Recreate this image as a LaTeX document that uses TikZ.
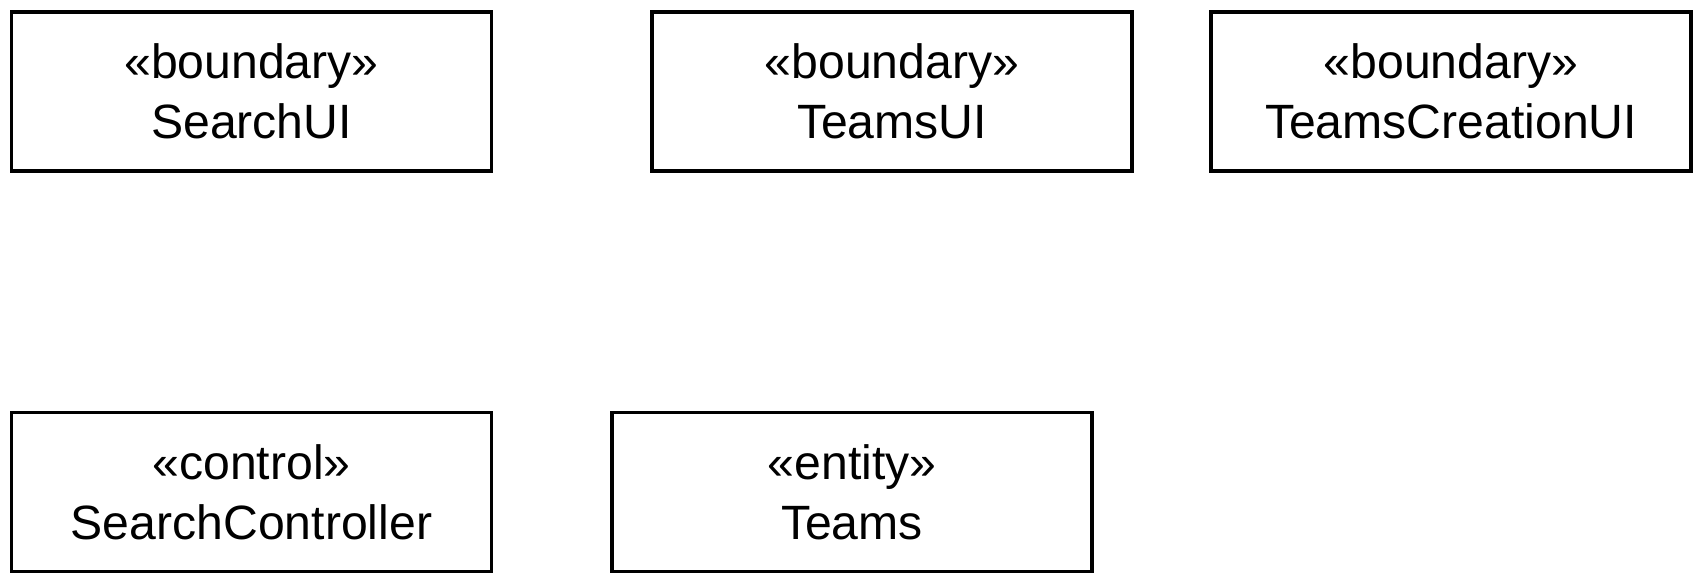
\documentclass[tikz,border=0pt]{standalone}
\usepackage{fontspec}
\setmainfont{Liberation Sans}
\begin{document}
\begin{tikzpicture}[
    umlbox/.style={draw, line width=2.1pt, minimum width=9.6cm, minimum height=3.18cm,
        align=center, font=\fontsize{27.4}{34}\selectfont, inner sep=0pt}]
            \useasboundingbox (0, 0) rectangle (34, -11.6);
            \node[umlbox] (searchui)   at (5.03, -1.83) {«boundary»\\SearchUI};
            \node[umlbox] (teamsui)    at (17.84, -1.83) {«boundary»\\TeamsUI};
            \node[umlbox] (creationui) at (29.02, -1.83) {«boundary»\\TeamsCreationUI};
            \node[umlbox] (searchctrl) at (5.03, -9.84) {«control»\\SearchController};
            \node[umlbox] (teams)      at (17.04, -9.84) {«entity»\\Teams};
        \end{tikzpicture}
\end{document}
